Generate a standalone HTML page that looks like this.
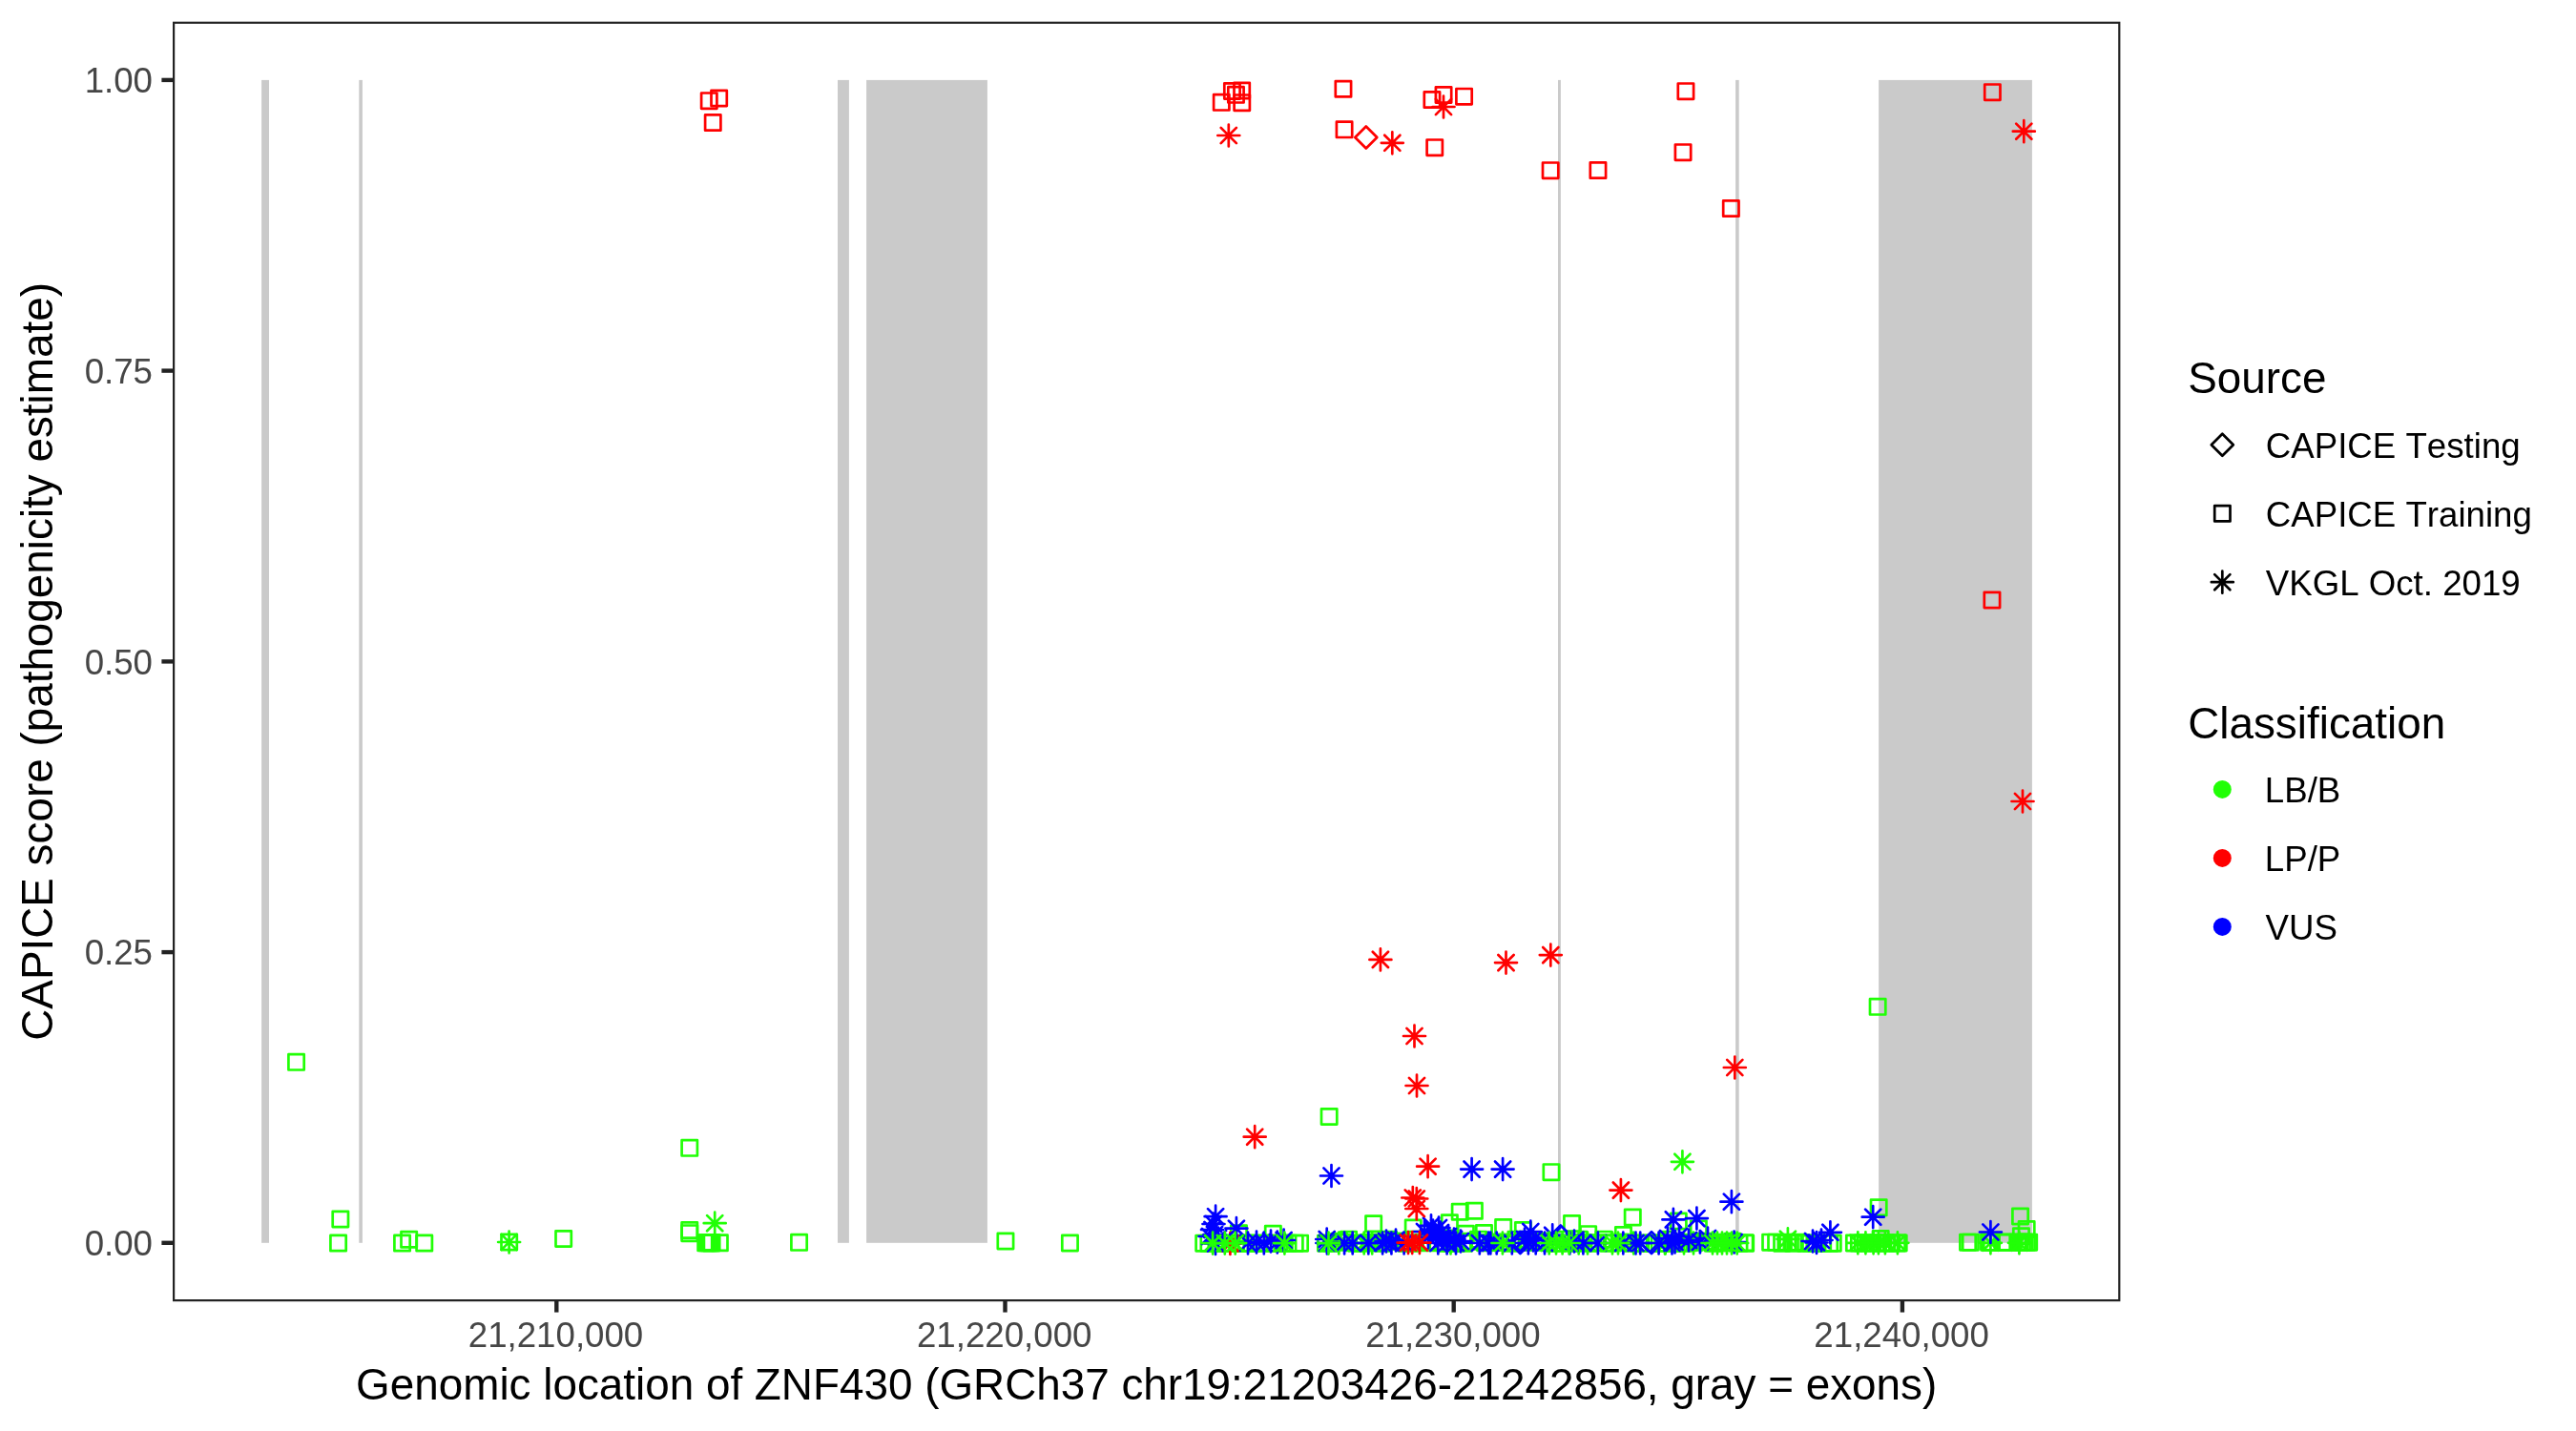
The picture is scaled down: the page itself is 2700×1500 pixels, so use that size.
<!DOCTYPE html>
<html><head><meta charset="utf-8"><title>ZNF430 CAPICE scores</title>
<style>
html,body{margin:0;padding:0;background:#fff;}
body{width:2700px;height:1500px;overflow:hidden;}
svg{display:block;will-change:transform;}
text{font-family:"Liberation Sans",sans-serif;font-kerning:none;}
.tk{font-size:36.67px;fill:#464646;}
.ti{font-size:45.83px;fill:#000;}
.lg{font-size:36.67px;fill:#000;}
.p *{fill:none;stroke-width:2.7;stroke-linecap:round;stroke-linejoin:round;}
</style></head><body>
<svg width="2700" height="1500" viewBox="0 0 2700 1500">
<rect width="2700" height="1500" fill="#fff"/>

<g fill="#cacaca">
<rect x="274.1" y="83.9" width="7.9" height="1218.9"/>
<rect x="376.3" y="83.9" width="3.6" height="1218.9"/>
<rect x="878.0" y="83.9" width="11.9" height="1218.9"/>
<rect x="908.1" y="83.9" width="126.8" height="1218.9"/>
<rect x="1633.0" y="83.9" width="2.9" height="1218.9"/>
<rect x="1819.1" y="83.9" width="3.6" height="1218.9"/>
<rect x="1969.1" y="83.9" width="160.8" height="1218.9"/>
</g>
<g class="p">
<rect x="735.1" y="97.5" width="16.3" height="16.3" stroke="#ff0000"/>
<rect x="745.5" y="94.8" width="16.3" height="16.3" stroke="#ff0000"/>
<rect x="739.1" y="120.4" width="16.3" height="16.3" stroke="#ff0000"/>
<rect x="1272.1" y="99.2" width="16.3" height="16.3" stroke="#ff0000"/>
<rect x="1283.3" y="87.3" width="16.3" height="16.3" stroke="#ff0000"/>
<rect x="1293.5" y="86.8" width="16.3" height="16.3" stroke="#ff0000"/>
<rect x="1287.3" y="91.2" width="16.3" height="16.3" stroke="#ff0000"/>
<rect x="1293.6" y="99.5" width="16.3" height="16.3" stroke="#ff0000"/>
<rect x="1399.8" y="85.1" width="16.3" height="16.3" stroke="#ff0000"/>
<rect x="1400.9" y="127.7" width="16.3" height="16.3" stroke="#ff0000"/>
<rect x="1492.8" y="96.4" width="16.3" height="16.3" stroke="#ff0000"/>
<rect x="1504.9" y="91.3" width="16.3" height="16.3" stroke="#ff0000"/>
<rect x="1526.4" y="93.0" width="16.3" height="16.3" stroke="#ff0000"/>
<rect x="1495.6" y="146.5" width="16.3" height="16.3" stroke="#ff0000"/>
<rect x="1617.0" y="170.5" width="16.3" height="16.3" stroke="#ff0000"/>
<rect x="1666.8" y="170.4" width="16.3" height="16.3" stroke="#ff0000"/>
<rect x="1758.8" y="87.5" width="16.3" height="16.3" stroke="#ff0000"/>
<rect x="1755.9" y="151.5" width="16.3" height="16.3" stroke="#ff0000"/>
<rect x="1806.2" y="210.4" width="16.3" height="16.3" stroke="#ff0000"/>
<rect x="2080.2" y="88.5" width="16.3" height="16.3" stroke="#ff0000"/>
<rect x="2079.8" y="620.8" width="16.3" height="16.3" stroke="#ff0000"/>
<rect x="302.4" y="1105.2" width="16.3" height="16.3" stroke="#21ff06"/>
<rect x="348.7" y="1269.8" width="16.3" height="16.3" stroke="#21ff06"/>
<rect x="346.4" y="1294.9" width="16.3" height="16.3" stroke="#21ff06"/>
<rect x="413.4" y="1294.9" width="16.3" height="16.3" stroke="#21ff06"/>
<rect x="420.5" y="1291.1" width="16.3" height="16.3" stroke="#21ff06"/>
<rect x="436.6" y="1294.9" width="16.3" height="16.3" stroke="#21ff06"/>
<rect x="525.5" y="1293.8" width="16.3" height="16.3" stroke="#21ff06"/>
<rect x="582.5" y="1290.3" width="16.3" height="16.3" stroke="#21ff06"/>
<rect x="714.6" y="1195.2" width="16.3" height="16.3" stroke="#21ff06"/>
<rect x="714.6" y="1281.4" width="16.3" height="16.3" stroke="#21ff06"/>
<rect x="714.6" y="1284.5" width="16.3" height="16.3" stroke="#21ff06"/>
<rect x="731.6" y="1294.6" width="16.3" height="16.3" stroke="#21ff06"/>
<rect x="733.4" y="1294.6" width="16.3" height="16.3" stroke="#21ff06"/>
<rect x="735.4" y="1294.6" width="16.3" height="16.3" stroke="#21ff06"/>
<rect x="737.4" y="1294.6" width="16.3" height="16.3" stroke="#21ff06"/>
<rect x="737.9" y="1294.6" width="16.3" height="16.3" stroke="#21ff06"/>
<rect x="746.2" y="1294.6" width="16.3" height="16.3" stroke="#21ff06"/>
<rect x="829.4" y="1294.2" width="16.3" height="16.3" stroke="#21ff06"/>
<rect x="1045.8" y="1292.8" width="16.3" height="16.3" stroke="#21ff06"/>
<rect x="1113.3" y="1294.8" width="16.3" height="16.3" stroke="#21ff06"/>
<rect x="1385.0" y="1162.3" width="16.3" height="16.3" stroke="#21ff06"/>
<rect x="1617.8" y="1220.5" width="16.3" height="16.3" stroke="#21ff06"/>
<rect x="1960.0" y="1047.2" width="16.3" height="16.3" stroke="#21ff06"/>
<rect x="1703.1" y="1267.8" width="16.3" height="16.3" stroke="#21ff06"/>
<rect x="1961.0" y="1257.6" width="16.3" height="16.3" stroke="#21ff06"/>
<rect x="2109.4" y="1266.8" width="16.3" height="16.3" stroke="#21ff06"/>
<rect x="2116.0" y="1280.4" width="16.3" height="16.3" stroke="#21ff06"/>
<rect x="2110.3" y="1287.6" width="16.3" height="16.3" stroke="#21ff06"/>
<rect x="1253.6" y="1295.0" width="16.3" height="16.3" stroke="#21ff06"/>
<rect x="1258.8" y="1295.0" width="16.3" height="16.3" stroke="#21ff06"/>
<rect x="1266.8" y="1295.0" width="16.3" height="16.3" stroke="#21ff06"/>
<rect x="1274.8" y="1295.0" width="16.3" height="16.3" stroke="#21ff06"/>
<rect x="1281.8" y="1295.0" width="16.3" height="16.3" stroke="#21ff06"/>
<rect x="1291.8" y="1295.0" width="16.3" height="16.3" stroke="#21ff06"/>
<rect x="1297.8" y="1295.0" width="16.3" height="16.3" stroke="#21ff06"/>
<rect x="1303.8" y="1295.0" width="16.3" height="16.3" stroke="#21ff06"/>
<rect x="1311.8" y="1295.0" width="16.3" height="16.3" stroke="#21ff06"/>
<rect x="1319.8" y="1295.0" width="16.3" height="16.3" stroke="#21ff06"/>
<rect x="1327.8" y="1295.0" width="16.3" height="16.3" stroke="#21ff06"/>
<rect x="1335.8" y="1295.0" width="16.3" height="16.3" stroke="#21ff06"/>
<rect x="1341.8" y="1295.0" width="16.3" height="16.3" stroke="#21ff06"/>
<rect x="1349.1" y="1295.0" width="16.3" height="16.3" stroke="#21ff06"/>
<rect x="1354.4" y="1295.0" width="16.3" height="16.3" stroke="#21ff06"/>
<rect x="1290.3" y="1284.6" width="16.3" height="16.3" stroke="#21ff06"/>
<rect x="1326.2" y="1285.2" width="16.3" height="16.3" stroke="#21ff06"/>
<rect x="1381.4" y="1295.0" width="16.3" height="16.3" stroke="#21ff06"/>
<rect x="1387.4" y="1295.0" width="16.3" height="16.3" stroke="#21ff06"/>
<rect x="1395.4" y="1293.0" width="16.3" height="16.3" stroke="#21ff06"/>
<rect x="1400.4" y="1294.0" width="16.3" height="16.3" stroke="#21ff06"/>
<rect x="1405.4" y="1291.0" width="16.3" height="16.3" stroke="#21ff06"/>
<rect x="1413.4" y="1295.0" width="16.3" height="16.3" stroke="#21ff06"/>
<rect x="1419.4" y="1295.0" width="16.3" height="16.3" stroke="#21ff06"/>
<rect x="1427.4" y="1294.0" width="16.3" height="16.3" stroke="#21ff06"/>
<rect x="1435.4" y="1294.5" width="16.3" height="16.3" stroke="#21ff06"/>
<rect x="1441.4" y="1295.0" width="16.3" height="16.3" stroke="#21ff06"/>
<rect x="1447.4" y="1291.0" width="16.3" height="16.3" stroke="#21ff06"/>
<rect x="1455.4" y="1293.0" width="16.3" height="16.3" stroke="#21ff06"/>
<rect x="1460.4" y="1293.0" width="16.3" height="16.3" stroke="#21ff06"/>
<rect x="1465.4" y="1295.0" width="16.3" height="16.3" stroke="#21ff06"/>
<rect x="1470.4" y="1295.0" width="16.3" height="16.3" stroke="#21ff06"/>
<rect x="1475.4" y="1291.0" width="16.3" height="16.3" stroke="#21ff06"/>
<rect x="1482.4" y="1294.5" width="16.3" height="16.3" stroke="#21ff06"/>
<rect x="1490.4" y="1293.0" width="16.3" height="16.3" stroke="#21ff06"/>
<rect x="1498.4" y="1294.5" width="16.3" height="16.3" stroke="#21ff06"/>
<rect x="1506.4" y="1295.0" width="16.3" height="16.3" stroke="#21ff06"/>
<rect x="1513.4" y="1295.0" width="16.3" height="16.3" stroke="#21ff06"/>
<rect x="1518.4" y="1295.0" width="16.3" height="16.3" stroke="#21ff06"/>
<rect x="1526.4" y="1295.0" width="16.3" height="16.3" stroke="#21ff06"/>
<rect x="1533.4" y="1293.0" width="16.3" height="16.3" stroke="#21ff06"/>
<rect x="1541.4" y="1291.0" width="16.3" height="16.3" stroke="#21ff06"/>
<rect x="1548.4" y="1294.5" width="16.3" height="16.3" stroke="#21ff06"/>
<rect x="1556.4" y="1294.0" width="16.3" height="16.3" stroke="#21ff06"/>
<rect x="1563.4" y="1294.0" width="16.3" height="16.3" stroke="#21ff06"/>
<rect x="1571.4" y="1294.0" width="16.3" height="16.3" stroke="#21ff06"/>
<rect x="1431.5" y="1274.6" width="16.3" height="16.3" stroke="#21ff06"/>
<rect x="1473.1" y="1278.9" width="16.3" height="16.3" stroke="#21ff06"/>
<rect x="1522.1" y="1262.1" width="16.3" height="16.3" stroke="#21ff06"/>
<rect x="1537.2" y="1261.1" width="16.3" height="16.3" stroke="#21ff06"/>
<rect x="1511.2" y="1273.6" width="16.3" height="16.3" stroke="#21ff06"/>
<rect x="1567.5" y="1278.4" width="16.3" height="16.3" stroke="#21ff06"/>
<rect x="1528.2" y="1285.1" width="16.3" height="16.3" stroke="#21ff06"/>
<rect x="1547.3" y="1284.3" width="16.3" height="16.3" stroke="#21ff06"/>
<rect x="1575.8" y="1295.0" width="16.3" height="16.3" stroke="#21ff06"/>
<rect x="1580.8" y="1291.0" width="16.3" height="16.3" stroke="#21ff06"/>
<rect x="1587.8" y="1294.0" width="16.3" height="16.3" stroke="#21ff06"/>
<rect x="1593.8" y="1293.0" width="16.3" height="16.3" stroke="#21ff06"/>
<rect x="1600.8" y="1294.0" width="16.3" height="16.3" stroke="#21ff06"/>
<rect x="1605.8" y="1293.0" width="16.3" height="16.3" stroke="#21ff06"/>
<rect x="1611.8" y="1293.0" width="16.3" height="16.3" stroke="#21ff06"/>
<rect x="1618.8" y="1295.0" width="16.3" height="16.3" stroke="#21ff06"/>
<rect x="1623.8" y="1295.0" width="16.3" height="16.3" stroke="#21ff06"/>
<rect x="1631.8" y="1291.0" width="16.3" height="16.3" stroke="#21ff06"/>
<rect x="1639.8" y="1295.0" width="16.3" height="16.3" stroke="#21ff06"/>
<rect x="1646.8" y="1291.0" width="16.3" height="16.3" stroke="#21ff06"/>
<rect x="1651.8" y="1294.5" width="16.3" height="16.3" stroke="#21ff06"/>
<rect x="1657.8" y="1295.0" width="16.3" height="16.3" stroke="#21ff06"/>
<rect x="1664.8" y="1294.5" width="16.3" height="16.3" stroke="#21ff06"/>
<rect x="1672.8" y="1291.0" width="16.3" height="16.3" stroke="#21ff06"/>
<rect x="1677.8" y="1295.0" width="16.3" height="16.3" stroke="#21ff06"/>
<rect x="1682.8" y="1294.5" width="16.3" height="16.3" stroke="#21ff06"/>
<rect x="1689.8" y="1294.0" width="16.3" height="16.3" stroke="#21ff06"/>
<rect x="1696.8" y="1294.0" width="16.3" height="16.3" stroke="#21ff06"/>
<rect x="1702.8" y="1295.0" width="16.3" height="16.3" stroke="#21ff06"/>
<rect x="1709.8" y="1295.0" width="16.3" height="16.3" stroke="#21ff06"/>
<rect x="1714.8" y="1295.0" width="16.3" height="16.3" stroke="#21ff06"/>
<rect x="1719.8" y="1295.0" width="16.3" height="16.3" stroke="#21ff06"/>
<rect x="1727.8" y="1295.0" width="16.3" height="16.3" stroke="#21ff06"/>
<rect x="1734.8" y="1295.0" width="16.3" height="16.3" stroke="#21ff06"/>
<rect x="1739.8" y="1291.0" width="16.3" height="16.3" stroke="#21ff06"/>
<rect x="1746.8" y="1295.0" width="16.3" height="16.3" stroke="#21ff06"/>
<rect x="1639.4" y="1274.4" width="16.3" height="16.3" stroke="#21ff06"/>
<rect x="1588.3" y="1281.4" width="16.3" height="16.3" stroke="#21ff06"/>
<rect x="1656.5" y="1285.5" width="16.3" height="16.3" stroke="#21ff06"/>
<rect x="1693.3" y="1286.3" width="16.3" height="16.3" stroke="#21ff06"/>
<rect x="1755.8" y="1295.0" width="16.3" height="16.3" stroke="#21ff06"/>
<rect x="1761.8" y="1294.5" width="16.3" height="16.3" stroke="#21ff06"/>
<rect x="1767.8" y="1294.0" width="16.3" height="16.3" stroke="#21ff06"/>
<rect x="1773.8" y="1293.0" width="16.3" height="16.3" stroke="#21ff06"/>
<rect x="1780.8" y="1293.0" width="16.3" height="16.3" stroke="#21ff06"/>
<rect x="1787.8" y="1295.0" width="16.3" height="16.3" stroke="#21ff06"/>
<rect x="1794.8" y="1294.0" width="16.3" height="16.3" stroke="#21ff06"/>
<rect x="1800.8" y="1294.5" width="16.3" height="16.3" stroke="#21ff06"/>
<rect x="1807.8" y="1293.0" width="16.3" height="16.3" stroke="#21ff06"/>
<rect x="1814.8" y="1295.0" width="16.3" height="16.3" stroke="#21ff06"/>
<rect x="1820.8" y="1294.5" width="16.3" height="16.3" stroke="#21ff06"/>
<rect x="1821.5" y="1295.0" width="16.3" height="16.3" stroke="#21ff06"/>
<rect x="1847.5" y="1294.0" width="16.3" height="16.3" stroke="#21ff06"/>
<rect x="1853.5" y="1294.0" width="16.3" height="16.3" stroke="#21ff06"/>
<rect x="1859.5" y="1295.0" width="16.3" height="16.3" stroke="#21ff06"/>
<rect x="1865.5" y="1294.0" width="16.3" height="16.3" stroke="#21ff06"/>
<rect x="1871.5" y="1295.0" width="16.3" height="16.3" stroke="#21ff06"/>
<rect x="1877.5" y="1294.0" width="16.3" height="16.3" stroke="#21ff06"/>
<rect x="1884.5" y="1295.0" width="16.3" height="16.3" stroke="#21ff06"/>
<rect x="1889.5" y="1295.0" width="16.3" height="16.3" stroke="#21ff06"/>
<rect x="1895.5" y="1295.0" width="16.3" height="16.3" stroke="#21ff06"/>
<rect x="1902.5" y="1295.0" width="16.3" height="16.3" stroke="#21ff06"/>
<rect x="1909.5" y="1295.0" width="16.3" height="16.3" stroke="#21ff06"/>
<rect x="1913.1" y="1295.0" width="16.3" height="16.3" stroke="#21ff06"/>
<rect x="1751.1" y="1271.9" width="16.3" height="16.3" stroke="#21ff06"/>
<rect x="1772.2" y="1279.8" width="16.3" height="16.3" stroke="#21ff06"/>
<rect x="1935.3" y="1294.8" width="16.3" height="16.3" stroke="#21ff06"/>
<rect x="1940.3" y="1294.8" width="16.3" height="16.3" stroke="#21ff06"/>
<rect x="1944.3" y="1294.8" width="16.3" height="16.3" stroke="#21ff06"/>
<rect x="1950.3" y="1294.8" width="16.3" height="16.3" stroke="#21ff06"/>
<rect x="1954.3" y="1294.8" width="16.3" height="16.3" stroke="#21ff06"/>
<rect x="1960.3" y="1294.8" width="16.3" height="16.3" stroke="#21ff06"/>
<rect x="1964.3" y="1294.8" width="16.3" height="16.3" stroke="#21ff06"/>
<rect x="1969.3" y="1294.8" width="16.3" height="16.3" stroke="#21ff06"/>
<rect x="1974.3" y="1294.8" width="16.3" height="16.3" stroke="#21ff06"/>
<rect x="1980.3" y="1294.8" width="16.3" height="16.3" stroke="#21ff06"/>
<rect x="1982.0" y="1294.8" width="16.3" height="16.3" stroke="#21ff06"/>
<rect x="1963.0" y="1290.4" width="16.3" height="16.3" stroke="#21ff06"/>
<rect x="2054.4" y="1294.0" width="16.3" height="16.3" stroke="#21ff06"/>
<rect x="2057.2" y="1294.0" width="16.3" height="16.3" stroke="#21ff06"/>
<rect x="2076.4" y="1294.0" width="16.3" height="16.3" stroke="#21ff06"/>
<rect x="2077.8" y="1294.0" width="16.3" height="16.3" stroke="#21ff06"/>
<rect x="2079.3" y="1294.0" width="16.3" height="16.3" stroke="#21ff06"/>
<rect x="2090.8" y="1294.0" width="16.3" height="16.3" stroke="#21ff06"/>
<rect x="2092.8" y="1294.0" width="16.3" height="16.3" stroke="#21ff06"/>
<rect x="2095.3" y="1294.0" width="16.3" height="16.3" stroke="#21ff06"/>
<rect x="2106.8" y="1294.0" width="16.3" height="16.3" stroke="#21ff06"/>
<rect x="2108.8" y="1294.0" width="16.3" height="16.3" stroke="#21ff06"/>
<rect x="2111.3" y="1294.0" width="16.3" height="16.3" stroke="#21ff06"/>
<rect x="2113.8" y="1294.0" width="16.3" height="16.3" stroke="#21ff06"/>
<rect x="2116.3" y="1294.0" width="16.3" height="16.3" stroke="#21ff06"/>
<rect x="2118.5" y="1294.0" width="16.3" height="16.3" stroke="#21ff06"/>
<path d="M1420.3 144.0L1431.8 132.5L1443.3 144.0L1431.8 155.5Z" stroke="#ff0000"/>
<path d="M1624.2 1296.0L1635.7 1284.5L1647.2 1296.0L1635.7 1307.5Z" stroke="#0000ff"/>
<path d="M1719.5 1302.6L1731.0 1291.1L1742.5 1302.6L1731.0 1314.1Z" stroke="#0000ff"/>
<path d="M1581.9 1302.6L1593.4 1291.1L1604.9 1302.6L1593.4 1314.1Z" stroke="#0000ff"/>
<path d="M1277.9 1303.4H1300.9M1289.4 1291.9V1314.9M1281.3 1295.3L1297.5 1311.5M1281.3 1311.5L1297.5 1295.3" stroke="#ff0000"/>
<path d="M522.1 1302.0H545.1M533.6 1290.5V1313.5M525.5 1293.9L541.7 1310.1M525.5 1310.1L541.7 1293.9" stroke="#21ff06"/>
<path d="M737.7 1282.2H760.7M749.2 1270.7V1293.7M741.1 1274.1L757.3 1290.3M741.1 1290.3L757.3 1274.1" stroke="#21ff06"/>
<path d="M1751.9 1217.8H1774.9M1763.4 1206.3V1229.3M1755.3 1209.7L1771.5 1225.9M1755.3 1225.9L1771.5 1209.7" stroke="#21ff06"/>
<path d="M1391.8 1303.0H1414.8M1403.3 1291.5V1314.5M1395.2 1294.9L1411.4 1311.1M1395.2 1311.1L1411.4 1294.9" stroke="#21ff06"/>
<path d="M1418.2 1303.0H1441.2M1429.7 1291.5V1314.5M1421.6 1294.9L1437.8 1311.1M1421.6 1311.1L1437.8 1294.9" stroke="#21ff06"/>
<path d="M1426.7 1303.0H1449.7M1438.2 1291.5V1314.5M1430.1 1294.9L1446.3 1311.1M1430.1 1311.1L1446.3 1294.9" stroke="#21ff06"/>
<path d="M1509.0 1303.0H1532.0M1520.5 1291.5V1314.5M1512.4 1294.9L1528.6 1311.1M1512.4 1311.1L1528.6 1294.9" stroke="#21ff06"/>
<path d="M1643.2 1303.0H1666.2M1654.7 1291.5V1314.5M1646.6 1294.9L1662.8 1311.1M1646.6 1311.1L1662.8 1294.9" stroke="#21ff06"/>
<path d="M1652.5 1303.0H1675.5M1664.0 1291.5V1314.5M1655.9 1294.9L1672.1 1311.1M1655.9 1311.1L1672.1 1294.9" stroke="#21ff06"/>
<path d="M1700.7 1303.0H1723.7M1712.2 1291.5V1314.5M1704.1 1294.9L1720.3 1311.1M1704.1 1311.1L1720.3 1294.9" stroke="#21ff06"/>
<path d="M1734.1 1303.0H1757.1M1745.6 1291.5V1314.5M1737.5 1294.9L1753.7 1311.1M1737.5 1311.1L1753.7 1294.9" stroke="#21ff06"/>
<path d="M1862.4 1298.8H1885.4M1873.9 1287.3V1310.3M1865.8 1290.7L1882.0 1306.9M1865.8 1306.9L1882.0 1290.7" stroke="#21ff06"/>
<path d="M1733.5 1303.0H1756.5M1745.0 1291.5V1314.5M1736.9 1294.9L1753.1 1311.1M1736.9 1311.1L1753.1 1294.9" stroke="#21ff06"/>
<path d="M1753.5 1303.0H1776.5M1765.0 1291.5V1314.5M1756.9 1294.9L1773.1 1311.1M1756.9 1311.1L1773.1 1294.9" stroke="#21ff06"/>
<path d="M1763.5 1303.0H1786.5M1775.0 1291.5V1314.5M1766.9 1294.9L1783.1 1311.1M1766.9 1311.1L1783.1 1294.9" stroke="#21ff06"/>
<path d="M1935.8 1302.8H1958.8M1947.3 1291.3V1314.3M1939.2 1294.7L1955.4 1310.9M1939.2 1310.9L1955.4 1294.7" stroke="#21ff06"/>
<path d="M1943.9 1302.8H1966.9M1955.4 1291.3V1314.3M1947.3 1294.7L1963.5 1310.9M1947.3 1310.9L1963.5 1294.7" stroke="#21ff06"/>
<path d="M1952.1 1302.8H1975.1M1963.6 1291.3V1314.3M1955.5 1294.7L1971.7 1310.9M1955.5 1310.9L1971.7 1294.7" stroke="#21ff06"/>
<path d="M1957.4 1302.8H1980.4M1968.9 1291.3V1314.3M1960.8 1294.7L1977.0 1310.9M1960.8 1310.9L1977.0 1294.7" stroke="#21ff06"/>
<path d="M1964.4 1302.8H1987.4M1975.9 1291.3V1314.3M1967.8 1294.7L1984.0 1310.9M1967.8 1310.9L1984.0 1294.7" stroke="#21ff06"/>
<path d="M1977.4 1302.8H2000.4M1988.9 1291.3V1314.3M1980.8 1294.7L1997.0 1310.9M1980.8 1310.9L1997.0 1294.7" stroke="#21ff06"/>
<path d="M2074.9 1302.8H2097.9M2086.4 1291.3V1314.3M2078.3 1294.7L2094.5 1310.9M2078.3 1310.9L2094.5 1294.7" stroke="#21ff06"/>
<path d="M2104.9 1302.8H2127.9M2116.4 1291.3V1314.3M2108.3 1294.7L2124.5 1310.9M2108.3 1310.9L2124.5 1294.7" stroke="#21ff06"/>
<path d="M1384.0 1232.5H1407.0M1395.5 1221.0V1244.0M1387.4 1224.4L1403.6 1240.6M1387.4 1240.6L1403.6 1224.4" stroke="#0000ff"/>
<path d="M1531.1 1225.6H1554.1M1542.6 1214.1V1237.1M1534.5 1217.5L1550.7 1233.7M1534.5 1233.7L1550.7 1217.5" stroke="#0000ff"/>
<path d="M1563.6 1225.6H1586.6M1575.1 1214.1V1237.1M1567.0 1217.5L1583.2 1233.7M1567.0 1233.7L1583.2 1217.5" stroke="#0000ff"/>
<path d="M1803.4 1259.7H1826.4M1814.9 1248.2V1271.2M1806.8 1251.6L1823.0 1267.8M1806.8 1267.8L1823.0 1251.6" stroke="#0000ff"/>
<path d="M1742.4 1278.4H1765.4M1753.9 1266.9V1289.9M1745.8 1270.3L1762.0 1286.5M1745.8 1286.5L1762.0 1270.3" stroke="#0000ff"/>
<path d="M1766.9 1277.1H1789.9M1778.4 1265.6V1288.6M1770.3 1269.0L1786.5 1285.2M1770.3 1285.2L1786.5 1269.0" stroke="#0000ff"/>
<path d="M1951.7 1275.7H1974.7M1963.2 1264.2V1287.2M1955.1 1267.6L1971.3 1283.8M1955.1 1283.8L1971.3 1267.6" stroke="#0000ff"/>
<path d="M1906.9 1291.8H1929.9M1918.4 1280.3V1303.3M1910.3 1283.7L1926.5 1299.9M1910.3 1299.9L1926.5 1283.7" stroke="#0000ff"/>
<path d="M2074.9 1291.5H2097.9M2086.4 1280.0V1303.0M2078.3 1283.4L2094.5 1299.6M2078.3 1299.6L2094.5 1283.4" stroke="#0000ff"/>
<path d="M1262.6 1275.2H1285.6M1274.1 1263.7V1286.7M1266.0 1267.1L1282.2 1283.3M1266.0 1283.3L1282.2 1267.1" stroke="#0000ff"/>
<path d="M1284.4 1287.7H1307.4M1295.9 1276.2V1299.2M1287.8 1279.6L1304.0 1295.8M1287.8 1295.8L1304.0 1279.6" stroke="#0000ff"/>
<path d="M1260.5 1283.0H1283.5M1272.0 1271.5V1294.5M1263.9 1274.9L1280.1 1291.1M1263.9 1291.1L1280.1 1274.9" stroke="#0000ff"/>
<path d="M1259.0 1289.0H1282.0M1270.5 1277.5V1300.5M1262.4 1280.9L1278.6 1297.1M1262.4 1297.1L1278.6 1280.9" stroke="#0000ff"/>
<path d="M1261.5 1294.0H1284.5M1273.0 1282.5V1305.5M1264.9 1285.9L1281.1 1302.1M1264.9 1302.1L1281.1 1285.9" stroke="#0000ff"/>
<path d="M1262.5 1303.4H1285.5M1274.0 1291.9V1314.9M1265.9 1295.3L1282.1 1311.5M1265.9 1311.5L1282.1 1295.3" stroke="#0000ff"/>
<path d="M1296.5 1303.0H1319.5M1308.0 1291.5V1314.5M1299.9 1294.9L1316.1 1311.1M1299.9 1311.1L1316.1 1294.9" stroke="#0000ff"/>
<path d="M1305.5 1302.0H1328.5M1317.0 1290.5V1313.5M1308.9 1293.9L1325.1 1310.1M1308.9 1310.1L1325.1 1293.9" stroke="#0000ff"/>
<path d="M1313.3 1303.0H1336.3M1324.8 1291.5V1314.5M1316.7 1294.9L1332.9 1311.1M1316.7 1311.1L1332.9 1294.9" stroke="#0000ff"/>
<path d="M1320.5 1301.0H1343.5M1332.0 1289.5V1312.5M1323.9 1292.9L1340.1 1309.1M1323.9 1309.1L1340.1 1292.9" stroke="#0000ff"/>
<path d="M1327.3 1302.0H1350.3M1338.8 1290.5V1313.5M1330.7 1293.9L1346.9 1310.1M1330.7 1310.1L1346.9 1293.9" stroke="#0000ff"/>
<path d="M1334.1 1300.0H1357.1M1345.6 1288.5V1311.5M1337.5 1291.9L1353.7 1308.1M1337.5 1308.1L1353.7 1291.9" stroke="#0000ff"/>
<path d="M1379.2 1299.0H1402.2M1390.7 1287.5V1310.5M1382.6 1290.9L1398.8 1307.1M1382.6 1307.1L1398.8 1290.9" stroke="#0000ff"/>
<path d="M1256.5 1296.0H1279.5M1268.0 1284.5V1307.5M1259.9 1287.9L1276.1 1304.1M1259.9 1304.1L1276.1 1287.9" stroke="#0000ff"/>
<path d="M1265.5 1298.0H1288.5M1277.0 1286.5V1309.5M1268.9 1289.9L1285.1 1306.1M1268.9 1306.1L1285.1 1289.9" stroke="#0000ff"/>
<path d="M1379.4 1303.0H1402.4M1390.9 1291.5V1314.5M1382.8 1294.9L1399.0 1311.1M1382.8 1311.1L1399.0 1294.9" stroke="#0000ff"/>
<path d="M1397.6 1303.0H1420.6M1409.1 1291.5V1314.5M1401.0 1294.9L1417.2 1311.1M1401.0 1311.1L1417.2 1294.9" stroke="#0000ff"/>
<path d="M1406.2 1303.0H1429.2M1417.7 1291.5V1314.5M1409.6 1294.9L1425.8 1311.1M1409.6 1311.1L1425.8 1294.9" stroke="#0000ff"/>
<path d="M1422.8 1303.0H1445.8M1434.3 1291.5V1314.5M1426.2 1294.9L1442.4 1311.1M1426.2 1311.1L1442.4 1294.9" stroke="#0000ff"/>
<path d="M1437.6 1303.0H1460.6M1449.1 1291.5V1314.5M1441.0 1294.9L1457.2 1311.1M1441.0 1311.1L1457.2 1294.9" stroke="#0000ff"/>
<path d="M1446.9 1303.0H1469.9M1458.4 1291.5V1314.5M1450.3 1294.9L1466.5 1311.1M1450.3 1311.1L1466.5 1294.9" stroke="#0000ff"/>
<path d="M1460.1 1303.0H1483.1M1471.6 1291.5V1314.5M1463.5 1294.9L1479.7 1311.1M1463.5 1311.1L1479.7 1294.9" stroke="#0000ff"/>
<path d="M1495.8 1303.0H1518.8M1507.3 1291.5V1314.5M1499.2 1294.9L1515.4 1311.1M1499.2 1311.1L1515.4 1294.9" stroke="#0000ff"/>
<path d="M1505.1 1303.0H1528.1M1516.6 1291.5V1314.5M1508.5 1294.9L1524.7 1311.1M1508.5 1311.1L1524.7 1294.9" stroke="#0000ff"/>
<path d="M1514.5 1303.0H1537.5M1526.0 1291.5V1314.5M1517.9 1294.9L1534.1 1311.1M1517.9 1311.1L1534.1 1294.9" stroke="#0000ff"/>
<path d="M1539.3 1303.0H1562.3M1550.8 1291.5V1314.5M1542.7 1294.9L1558.9 1311.1M1542.7 1311.1L1558.9 1294.9" stroke="#0000ff"/>
<path d="M1548.6 1303.0H1571.6M1560.1 1291.5V1314.5M1552.0 1294.9L1568.2 1311.1M1552.0 1311.1L1568.2 1294.9" stroke="#0000ff"/>
<path d="M1557.2 1303.0H1580.2M1568.7 1291.5V1314.5M1560.6 1294.9L1576.8 1311.1M1560.6 1311.1L1576.8 1294.9" stroke="#0000ff"/>
<path d="M1488.5 1284.8H1511.5M1500.0 1273.3V1296.3M1491.9 1276.7L1508.1 1292.9M1491.9 1292.9L1508.1 1276.7" stroke="#0000ff"/>
<path d="M1490.5 1290.0H1513.5M1502.0 1278.5V1301.5M1493.9 1281.9L1510.1 1298.1M1493.9 1298.1L1510.1 1281.9" stroke="#0000ff"/>
<path d="M1493.5 1295.0H1516.5M1505.0 1283.5V1306.5M1496.9 1286.9L1513.1 1303.1M1496.9 1303.1L1513.1 1286.9" stroke="#0000ff"/>
<path d="M1485.5 1297.0H1508.5M1497.0 1285.5V1308.5M1488.9 1288.9L1505.1 1305.1M1488.9 1305.1L1505.1 1288.9" stroke="#0000ff"/>
<path d="M1441.5 1301.0H1464.5M1453.0 1289.5V1312.5M1444.9 1292.9L1461.1 1309.1M1444.9 1309.1L1461.1 1292.9" stroke="#0000ff"/>
<path d="M1451.5 1300.0H1474.5M1463.0 1288.5V1311.5M1454.9 1291.9L1471.1 1308.1M1454.9 1308.1L1471.1 1291.9" stroke="#0000ff"/>
<path d="M1500.5 1298.0H1523.5M1512.0 1286.5V1309.5M1503.9 1289.9L1520.1 1306.1M1503.9 1306.1L1520.1 1289.9" stroke="#0000ff"/>
<path d="M1498.5 1292.0H1521.5M1510.0 1280.5V1303.5M1501.9 1283.9L1518.1 1300.1M1501.9 1300.1L1518.1 1283.9" stroke="#0000ff"/>
<path d="M1506.5 1296.0H1529.5M1518.0 1284.5V1307.5M1509.9 1287.9L1526.1 1304.1M1509.9 1304.1L1526.1 1287.9" stroke="#0000ff"/>
<path d="M1512.5 1299.0H1535.5M1524.0 1287.5V1310.5M1515.9 1290.9L1532.1 1307.1M1515.9 1307.1L1532.1 1290.9" stroke="#0000ff"/>
<path d="M1519.5 1301.0H1542.5M1531.0 1289.5V1312.5M1522.9 1292.9L1539.1 1309.1M1522.9 1309.1L1539.1 1292.9" stroke="#0000ff"/>
<path d="M1481.5 1291.0H1504.5M1493.0 1279.5V1302.5M1484.9 1282.9L1501.1 1299.1M1484.9 1299.1L1501.1 1282.9" stroke="#0000ff"/>
<path d="M1496.5 1287.0H1519.5M1508.0 1275.5V1298.5M1499.9 1278.9L1516.1 1295.1M1499.9 1295.1L1516.1 1278.9" stroke="#0000ff"/>
<path d="M1550.8 1303.0H1573.8M1562.3 1291.5V1314.5M1554.2 1294.9L1570.4 1311.1M1554.2 1311.1L1570.4 1294.9" stroke="#0000ff"/>
<path d="M1573.3 1303.0H1596.3M1584.8 1291.5V1314.5M1576.7 1294.9L1592.9 1311.1M1576.7 1311.1L1592.9 1294.9" stroke="#0000ff"/>
<path d="M1590.4 1303.0H1613.4M1601.9 1291.5V1314.5M1593.8 1294.9L1610.0 1311.1M1593.8 1311.1L1610.0 1294.9" stroke="#0000ff"/>
<path d="M1598.2 1303.0H1621.2M1609.7 1291.5V1314.5M1601.6 1294.9L1617.8 1311.1M1601.6 1311.1L1617.8 1294.9" stroke="#0000ff"/>
<path d="M1607.5 1303.0H1630.5M1619.0 1291.5V1314.5M1610.9 1294.9L1627.1 1311.1M1610.9 1311.1L1627.1 1294.9" stroke="#0000ff"/>
<path d="M1633.9 1303.0H1656.9M1645.4 1291.5V1314.5M1637.3 1294.9L1653.5 1311.1M1637.3 1311.1L1653.5 1294.9" stroke="#0000ff"/>
<path d="M1647.9 1303.0H1670.9M1659.4 1291.5V1314.5M1651.3 1294.9L1667.5 1311.1M1651.3 1311.1L1667.5 1294.9" stroke="#0000ff"/>
<path d="M1663.4 1303.0H1686.4M1674.9 1291.5V1314.5M1666.8 1294.9L1683.0 1311.1M1666.8 1311.1L1683.0 1294.9" stroke="#0000ff"/>
<path d="M1689.8 1303.0H1712.8M1701.3 1291.5V1314.5M1693.2 1294.9L1709.4 1311.1M1693.2 1311.1L1709.4 1294.9" stroke="#0000ff"/>
<path d="M1703.0 1303.0H1726.0M1714.5 1291.5V1314.5M1706.4 1294.9L1722.6 1311.1M1706.4 1311.1L1722.6 1294.9" stroke="#0000ff"/>
<path d="M1707.7 1303.0H1730.7M1719.2 1291.5V1314.5M1711.1 1294.9L1727.3 1311.1M1711.1 1311.1L1727.3 1294.9" stroke="#0000ff"/>
<path d="M1727.1 1303.0H1750.1M1738.6 1291.5V1314.5M1730.5 1294.9L1746.7 1311.1M1730.5 1311.1L1746.7 1294.9" stroke="#0000ff"/>
<path d="M1741.0 1303.0H1764.0M1752.5 1291.5V1314.5M1744.4 1294.9L1760.6 1311.1M1744.4 1311.1L1760.6 1294.9" stroke="#0000ff"/>
<path d="M1592.8 1291.0H1615.8M1604.3 1279.5V1302.5M1596.2 1282.9L1612.4 1299.1M1596.2 1299.1L1612.4 1282.9" stroke="#0000ff"/>
<path d="M1615.7 1294.9H1638.7M1627.2 1283.4V1306.4M1619.1 1286.8L1635.3 1303.0M1619.1 1303.0L1635.3 1286.8" stroke="#0000ff"/>
<path d="M1638.5 1301.0H1661.5M1650.0 1289.5V1312.5M1641.9 1292.9L1658.1 1309.1M1641.9 1309.1L1658.1 1292.9" stroke="#0000ff"/>
<path d="M1586.5 1299.0H1609.5M1598.0 1287.5V1310.5M1589.9 1290.9L1606.1 1307.1M1589.9 1307.1L1606.1 1290.9" stroke="#0000ff"/>
<path d="M1595.5 1300.0H1618.5M1607.0 1288.5V1311.5M1598.9 1291.9L1615.1 1308.1M1598.9 1308.1L1615.1 1291.9" stroke="#0000ff"/>
<path d="M1744.0 1302.0H1767.0M1755.5 1290.5V1313.5M1747.4 1293.9L1763.6 1310.1M1747.4 1310.1L1763.6 1293.9" stroke="#0000ff"/>
<path d="M1770.4 1302.0H1793.4M1781.9 1290.5V1313.5M1773.8 1293.9L1790.0 1310.1M1773.8 1310.1L1790.0 1293.9" stroke="#0000ff"/>
<path d="M1806.1 1302.0H1829.1M1817.6 1290.5V1313.5M1809.5 1293.9L1825.7 1310.1M1809.5 1310.1L1825.7 1293.9" stroke="#0000ff"/>
<path d="M1888.5 1301.0H1911.5M1900.0 1289.5V1312.5M1891.9 1292.9L1908.1 1309.1M1891.9 1309.1L1908.1 1292.9" stroke="#0000ff"/>
<path d="M1892.5 1302.5H1915.5M1904.0 1291.0V1314.0M1895.9 1294.4L1912.1 1310.6M1895.9 1310.6L1912.1 1294.4" stroke="#0000ff"/>
<path d="M1897.5 1300.0H1920.5M1909.0 1288.5V1311.5M1900.9 1291.9L1917.1 1308.1M1900.9 1308.1L1917.1 1291.9" stroke="#0000ff"/>
<path d="M1736.5 1298.0H1759.5M1748.0 1286.5V1309.5M1739.9 1289.9L1756.1 1306.1M1739.9 1306.1L1756.1 1289.9" stroke="#0000ff"/>
<path d="M1748.5 1296.0H1771.5M1760.0 1284.5V1307.5M1751.9 1287.9L1768.1 1304.1M1751.9 1304.1L1768.1 1287.9" stroke="#0000ff"/>
<path d="M1758.5 1300.0H1781.5M1770.0 1288.5V1311.5M1761.9 1291.9L1778.1 1308.1M1761.9 1308.1L1778.1 1291.9" stroke="#0000ff"/>
<path d="M1778.5 1298.0H1801.5M1790.0 1286.5V1309.5M1781.9 1289.9L1798.1 1306.1M1781.9 1306.1L1798.1 1289.9" stroke="#0000ff"/>
<path d="M1276.3 142.0H1299.3M1287.8 130.5V153.5M1279.7 133.9L1295.9 150.1M1279.7 150.1L1295.9 133.9" stroke="#ff0000"/>
<path d="M1447.8 149.8H1470.8M1459.3 138.3V161.3M1451.2 141.7L1467.4 157.9M1451.2 157.9L1467.4 141.7" stroke="#ff0000"/>
<path d="M1501.5 112.0H1524.5M1513.0 100.5V123.5M1504.9 103.9L1521.1 120.1M1504.9 120.1L1521.1 103.9" stroke="#ff0000"/>
<path d="M2109.8 137.7H2132.8M2121.3 126.2V149.2M2113.2 129.6L2129.4 145.8M2113.2 145.8L2129.4 129.6" stroke="#ff0000"/>
<path d="M2108.5 840.0H2131.5M2120.0 828.5V851.5M2111.9 831.9L2128.1 848.1M2111.9 848.1L2128.1 831.9" stroke="#ff0000"/>
<path d="M1435.4 1005.9H1458.4M1446.9 994.4V1017.4M1438.8 997.8L1455.0 1014.0M1438.8 1014.0L1455.0 997.8" stroke="#ff0000"/>
<path d="M1567.0 1009.1H1590.0M1578.5 997.6V1020.6M1570.4 1001.0L1586.6 1017.2M1570.4 1017.2L1586.6 1001.0" stroke="#ff0000"/>
<path d="M1613.8 1001.1H1636.8M1625.3 989.6V1012.6M1617.2 993.0L1633.4 1009.2M1617.2 1009.2L1633.4 993.0" stroke="#ff0000"/>
<path d="M1471.0 1086.0H1494.0M1482.5 1074.5V1097.5M1474.4 1077.9L1490.6 1094.1M1474.4 1094.1L1490.6 1077.9" stroke="#ff0000"/>
<path d="M1473.5 1138.0H1496.5M1485.0 1126.5V1149.5M1476.9 1129.9L1493.1 1146.1M1476.9 1146.1L1493.1 1129.9" stroke="#ff0000"/>
<path d="M1303.7 1191.7H1326.7M1315.2 1180.2V1203.2M1307.1 1183.6L1323.3 1199.8M1307.1 1199.8L1323.3 1183.6" stroke="#ff0000"/>
<path d="M1485.1 1222.7H1508.1M1496.6 1211.2V1234.2M1488.5 1214.6L1504.7 1230.8M1488.5 1230.8L1504.7 1214.6" stroke="#ff0000"/>
<path d="M1806.8 1119.0H1829.8M1818.3 1107.5V1130.5M1810.2 1110.9L1826.4 1127.1M1810.2 1127.1L1826.4 1110.9" stroke="#ff0000"/>
<path d="M1687.4 1247.6H1710.4M1698.9 1236.1V1259.1M1690.8 1239.5L1707.0 1255.7M1690.8 1255.7L1707.0 1239.5" stroke="#ff0000"/>
<path d="M1469.3 1255.5H1492.3M1480.8 1244.0V1267.0M1472.7 1247.4L1488.9 1263.6M1472.7 1263.6L1488.9 1247.4" stroke="#ff0000"/>
<path d="M1473.3 1256.5H1496.3M1484.8 1245.0V1268.0M1476.7 1248.4L1492.9 1264.6M1476.7 1264.6L1492.9 1248.4" stroke="#ff0000"/>
<path d="M1473.3 1267.0H1496.3M1484.8 1255.5V1278.5M1476.7 1258.9L1492.9 1275.1M1476.7 1275.1L1492.9 1258.9" stroke="#ff0000"/>
<path d="M1464.5 1302.6H1487.5M1476.0 1291.1V1314.1M1467.9 1294.5L1484.1 1310.7M1467.9 1310.7L1484.1 1294.5" stroke="#ff0000"/>
<path d="M1468.7 1302.6H1491.7M1480.2 1291.1V1314.1M1472.1 1294.5L1488.3 1310.7M1472.1 1310.7L1488.3 1294.5" stroke="#ff0000"/>
<path d="M1476.4 1302.6H1499.4M1487.9 1291.1V1314.1M1479.8 1294.5L1496.0 1310.7M1479.8 1310.7L1496.0 1294.5" stroke="#ff0000"/>
<path d="M1259.6 1303.1H1282.6M1271.1 1291.6V1314.6M1263.0 1295.0L1279.2 1311.2M1263.0 1311.2L1279.2 1295.0" stroke="#21ff06"/>
<path d="M1272.3 1303.1H1295.3M1283.8 1291.6V1314.6M1275.7 1295.0L1291.9 1311.2M1275.7 1311.2L1291.9 1295.0" stroke="#21ff06"/>
<path d="M1283.2 1303.1H1306.2M1294.7 1291.6V1314.6M1286.6 1295.0L1302.8 1311.2M1286.6 1311.2L1302.8 1295.0" stroke="#21ff06"/>
<path d="M1334.9 1303.1H1357.9M1346.4 1291.6V1314.6M1338.3 1295.0L1354.5 1311.2M1338.3 1311.2L1354.5 1295.0" stroke="#21ff06"/>
<path d="M1381.0 1303.1H1404.0M1392.5 1291.6V1314.6M1384.4 1295.0L1400.6 1311.2M1384.4 1311.2L1400.6 1295.0" stroke="#21ff06"/>
<path d="M1563.4 1303.0H1586.4M1574.9 1291.5V1314.5M1566.8 1294.9L1583.0 1311.1M1566.8 1311.1L1583.0 1294.9" stroke="#21ff06"/>
<path d="M1612.2 1303.0H1635.2M1623.7 1291.5V1314.5M1615.6 1294.9L1631.8 1311.1M1615.6 1311.1L1631.8 1294.9" stroke="#21ff06"/>
<path d="M1619.5 1303.0H1642.5M1631.0 1291.5V1314.5M1622.9 1294.9L1639.1 1311.1M1622.9 1311.1L1639.1 1294.9" stroke="#21ff06"/>
<path d="M1626.1 1303.0H1649.1M1637.6 1291.5V1314.5M1629.5 1294.9L1645.7 1311.1M1629.5 1311.1L1645.7 1294.9" stroke="#21ff06"/>
<path d="M1633.1 1303.0H1656.1M1644.6 1291.5V1314.5M1636.5 1294.9L1652.7 1311.1M1636.5 1311.1L1652.7 1294.9" stroke="#21ff06"/>
<path d="M1678.5 1303.0H1701.5M1690.0 1291.5V1314.5M1681.9 1294.9L1698.1 1311.1M1681.9 1311.1L1698.1 1294.9" stroke="#21ff06"/>
<path d="M1684.5 1303.0H1707.5M1696.0 1291.5V1314.5M1687.9 1294.9L1704.1 1311.1M1687.9 1311.1L1704.1 1294.9" stroke="#21ff06"/>
<path d="M1809.2 1303.0H1832.2M1820.7 1291.5V1314.5M1812.6 1294.9L1828.8 1311.1M1812.6 1311.1L1828.8 1294.9" stroke="#21ff06"/>
<path d="M1783.5 1303.0H1806.5M1795.0 1291.5V1314.5M1786.9 1294.9L1803.1 1311.1M1786.9 1311.1L1803.1 1294.9" stroke="#21ff06"/>
<path d="M1788.5 1303.0H1811.5M1800.0 1291.5V1314.5M1791.9 1294.9L1808.1 1311.1M1791.9 1311.1L1808.1 1294.9" stroke="#21ff06"/>
<path d="M1793.5 1303.0H1816.5M1805.0 1291.5V1314.5M1796.9 1294.9L1813.1 1311.1M1796.9 1311.1L1813.1 1294.9" stroke="#21ff06"/>
<path d="M1798.5 1303.0H1821.5M1810.0 1291.5V1314.5M1801.9 1294.9L1818.1 1311.1M1801.9 1311.1L1818.1 1294.9" stroke="#21ff06"/>
<path d="M1803.5 1303.0H1826.5M1815.0 1291.5V1314.5M1806.9 1294.9L1823.1 1311.1M1806.9 1311.1L1823.1 1294.9" stroke="#21ff06"/>
</g>
<rect x="182.1" y="23.8" width="2039.2" height="1339.3" fill="none" stroke="#222" stroke-width="2.2"/>
<g stroke="#222" stroke-width="4.4">
<line x1="169.4" x2="182.1" y1="1302.8" y2="1302.8"/>
<line x1="169.4" x2="182.1" y1="998.1" y2="998.1"/>
<line x1="169.4" x2="182.1" y1="693.4" y2="693.4"/>
<line x1="169.4" x2="182.1" y1="388.6" y2="388.6"/>
<line x1="169.4" x2="182.1" y1="83.9" y2="83.9"/>
<line x1="583.3" x2="583.3" y1="1363.1" y2="1375.6"/>
<line x1="1053.5" x2="1053.5" y1="1363.1" y2="1375.6"/>
<line x1="1523.7" x2="1523.7" y1="1363.1" y2="1375.6"/>
<line x1="1993.9" x2="1993.9" y1="1363.1" y2="1375.6"/>
</g>
<text class="tk" x="160.0" y="1316.0" text-anchor="end">0.00</text>
<text class="tk" x="160.0" y="1011.3" text-anchor="end">0.25</text>
<text class="tk" x="160.0" y="706.6" text-anchor="end">0.50</text>
<text class="tk" x="160.0" y="401.8" text-anchor="end">0.75</text>
<text class="tk" x="160.0" y="97.1" text-anchor="end">1.00</text>
<text class="tk" x="582.5" y="1412.3" text-anchor="middle">21,210,000</text>
<text class="tk" x="1052.7" y="1412.3" text-anchor="middle">21,220,000</text>
<text class="tk" x="1522.9" y="1412.3" text-anchor="middle">21,230,000</text>
<text class="tk" x="1993.1" y="1412.3" text-anchor="middle">21,240,000</text>
<text class="ti" x="1201.7" y="1466.8" text-anchor="middle">Genomic location of ZNF430 (GRCh37 chr19:21203426-21242856, gray = exons)</text>
<text class="ti" transform="translate(54.9,693.4) rotate(-90)" text-anchor="middle">CAPICE score (pathogenicity estimate)</text>
<text class="ti" x="2293.2" y="412.4">Source</text>
<g class="p">
<path d="M2317.8 466.3L2329.3 454.8L2340.8 466.3L2329.3 477.8Z" stroke="#000"/>
<rect x="2321.2" y="530.1" width="16.3" height="16.3" stroke="#000"/>
<path d="M2317.8 610.2H2340.8M2329.3 598.7V621.7M2321.2 602.1L2337.4 618.3M2321.2 618.3L2337.4 602.1" stroke="#000"/>
</g>
<text class="lg" x="2374.8" y="479.8">CAPICE Testing</text>
<text class="lg" x="2374.8" y="551.8">CAPICE Training</text>
<text class="lg" x="2374.8" y="623.8">VKGL Oct. 2019</text>
<text class="ti" x="2293.2" y="774.1">Classification</text>
<circle cx="2329.3" cy="827.4" r="9.5" fill="#21ff06"/>
<circle cx="2329.3" cy="899.4" r="9.5" fill="#ff0000"/>
<circle cx="2329.3" cy="971.4" r="9.5" fill="#0000ff"/>
<text class="lg" x="2373.8" y="840.7">LB/B</text>
<text class="lg" x="2373.8" y="912.7">LP/P</text>
<text class="lg" x="2374.6" y="984.7">VUS</text>
</svg></body></html>
